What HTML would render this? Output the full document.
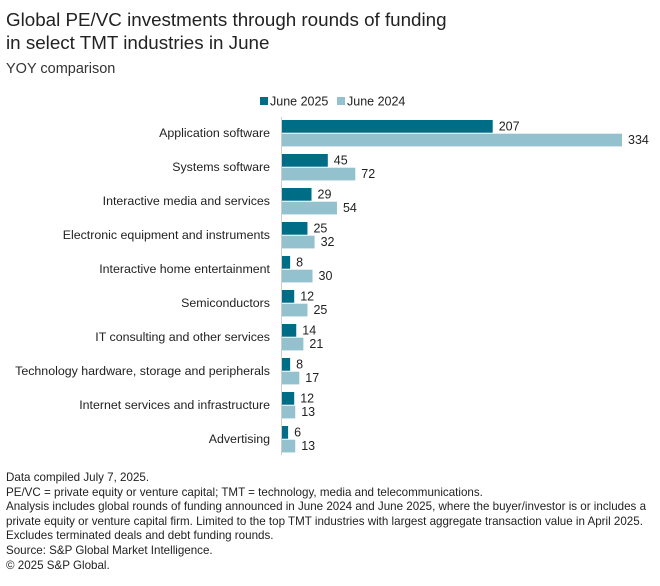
<!DOCTYPE html>
<html><head><meta charset="utf-8"><style>
body{margin:0;width:660px;height:586px;background:#fff;font-family:"Liberation Sans",sans-serif;color:#222;position:relative;overflow:hidden}
.t{position:absolute;left:6px;font-size:18.8px;line-height:23px;color:#222}
.n{position:absolute;left:6px;font-size:11.6px;line-height:14.6px;color:#222;white-space:nowrap}
</style></head><body>
<div class="t" style="top:8px">Global PE/VC investments through rounds of funding<br>in select TMT industries in June</div>
<div style="position:absolute;left:6px;top:61px;font-size:14.5px;color:#333">YOY comparison</div>
<svg id="c" width="660" height="470" style="position:absolute;left:0;top:0"></svg>
<div class="n" style="top:471px">Data compiled July 7, 2025.<br>PE/VC = private equity or venture capital; TMT = technology, media and telecommunications.<br>Analysis includes global rounds of funding announced in June 2024 and June 2025, where the buyer/investor is or includes a<br>private equity or venture capital firm. Limited to the top TMT industries with largest aggregate transaction value in April 2025.<br>Excludes terminated deals and debt funding rounds.<br>Source: S&amp;P Global Market Intelligence.<br>© 2025 S&amp;P Global.</div>
<script>
const categories=["Application software","Systems software","Interactive media and services","Electronic equipment and instruments","Interactive home entertainment","Semiconductors","IT consulting and other services","Technology hardware, storage and peripherals","Internet services and infrastructure","Advertising"];
const june2025=[207,45,29,25,8,12,14,8,12,6];
const june2024=[334,72,54,32,30,25,21,17,13,13];
const seriesNames=["June 2025","June 2024"];
const colors=["#006d86","#94c1ce"];
const svg=document.getElementById('c');const NS='http://www.w3.org/2000/svg';
const x0=282,k=1.018,top0=120,pitch=34,bh=12.7;
const xs=v=>x0+v*k;
function mk(t,a,txt){const e=document.createElementNS(NS,t);for(const p in a)e.setAttribute(p,a[p]);if(txt!=null)e.textContent=txt;svg.appendChild(e);return e;}
seriesNames.forEach((s,i)=>{const lx=[260,337][i];
const r=mk('rect',{x:lx,y:97,width:8,height:8,fill:colors[i]});


const t=mk('text',{x:lx+10,y:105.5,'font-size':12.5,fill:'#222'},s);

});
categories.forEach((c,i)=>{const y=top0+i*pitch;
const l=mk('text',{x:270,y:y+17,'font-size':12.4,fill:'#222','text-anchor':'end',textLength:null},c);
l.removeAttribute('textLength');


[june2025,june2024].forEach((arr,j)=>{const by=y+j*(bh+1);
const b=mk('rect',{x:x0,y:by,width:xs(arr[i])-x0,height:bh,fill:colors[j]});


const v=mk('text',{x:xs(arr[i])+6,y:by+10.5,'font-size':12.5,fill:'#222'},arr[i]);

});});
const ax=mk('line',{x1:281.5,x2:281.5,y1:117,y2:455,stroke:'#ccc','stroke-width':1});


</script>
</body></html>
